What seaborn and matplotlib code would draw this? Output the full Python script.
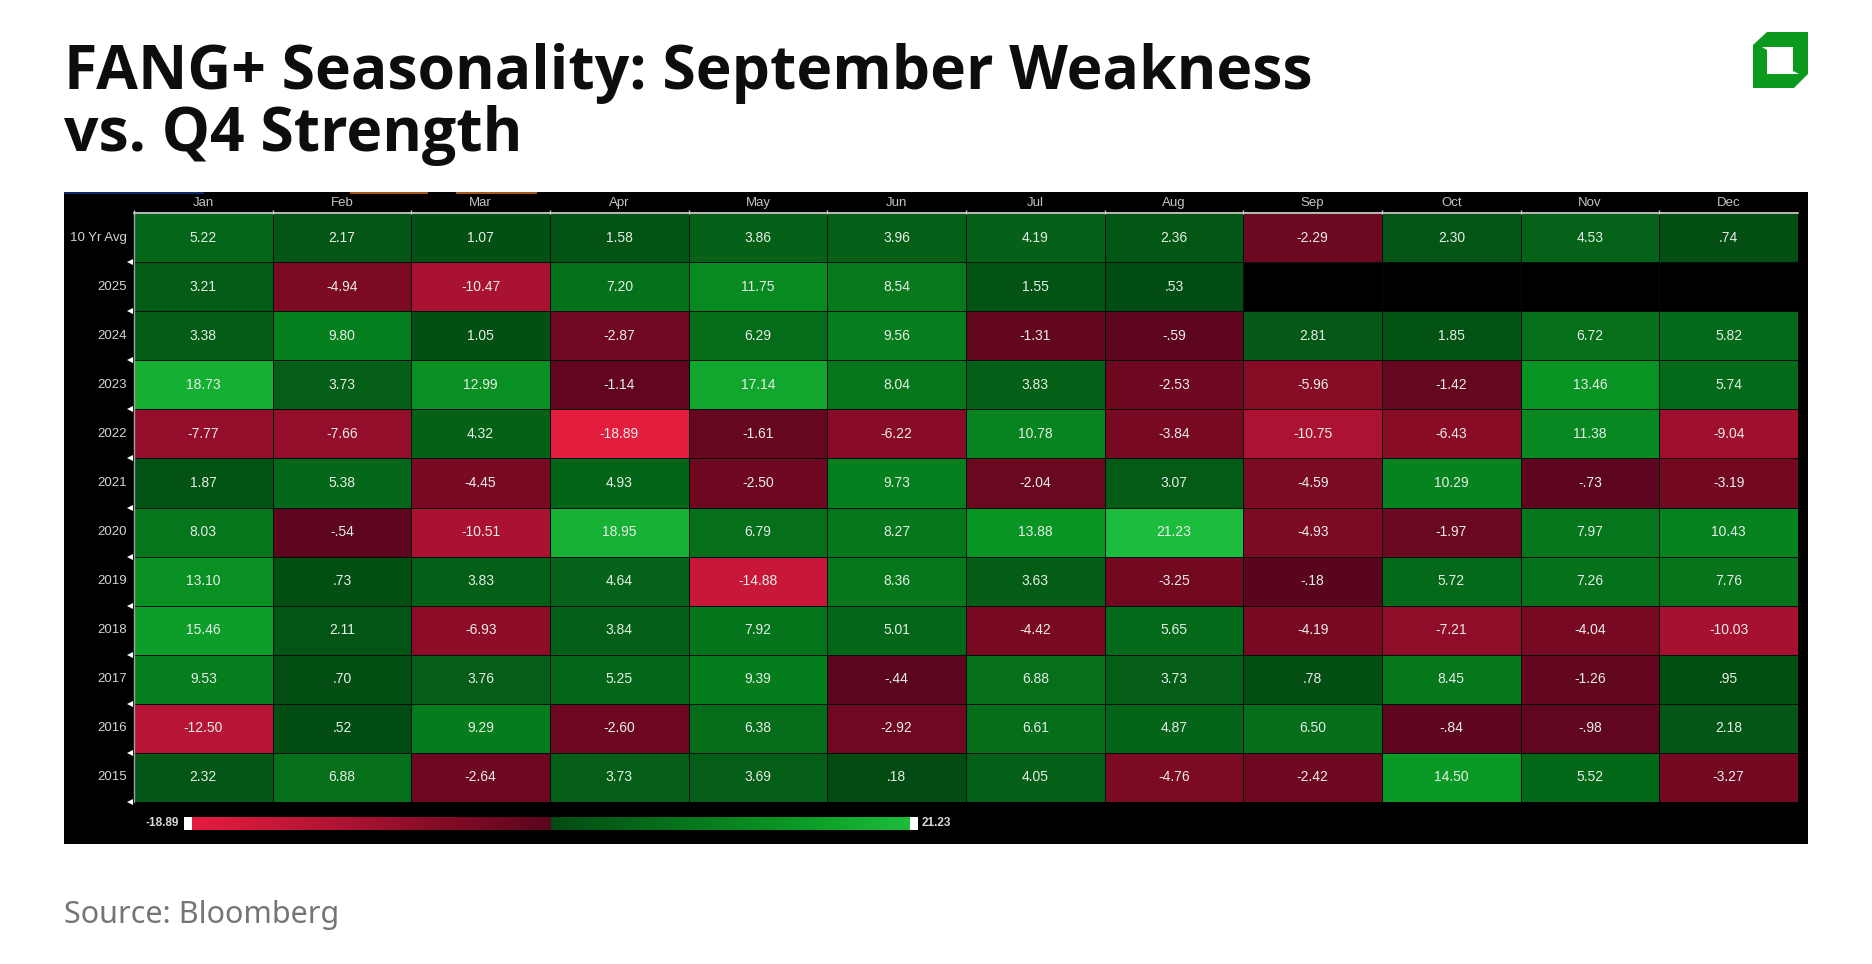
import numpy as np
import pandas as pd
import matplotlib
matplotlib.use("Agg")
import matplotlib.pyplot as plt
from matplotlib.colors import LinearSegmentedColormap, TwoSlopeNorm
from matplotlib.patches import Polygon, Rectangle
import seaborn as sns

months = ["Jan", "Feb", "Mar", "Apr", "May", "Jun", "Jul", "Aug", "Sep", "Oct", "Nov", "Dec"]
rows = ["10 Yr Avg", "2025", "2024", "2023", "2022", "2021", "2020", "2019", "2018", "2017", "2016", "2015"]

avg_10yr = [5.22, 2.17, 1.07, 1.58, 3.86, 3.96, 4.19, 2.36, -2.29, 2.30, 4.53, .74]
y2025 = [3.21, -4.94, -10.47, 7.20, 11.75, 8.54, 1.55, .53, np.nan, np.nan, np.nan, np.nan]
y2024 = [3.38, 9.80, 1.05, -2.87, 6.29, 9.56, -1.31, -.59, 2.81, 1.85, 6.72, 5.82]
y2023 = [18.73, 3.73, 12.99, -1.14, 17.14, 8.04, 3.83, -2.53, -5.96, -1.42, 13.46, 5.74]
y2022 = [-7.77, -7.66, 4.32, -18.89, -1.61, -6.22, 10.78, -3.84, -10.75, -6.43, 11.38, -9.04]
y2021 = [1.87, 5.38, -4.45, 4.93, -2.50, 9.73, -2.04, 3.07, -4.59, 10.29, -.73, -3.19]
y2020 = [8.03, -.54, -10.51, 18.95, 6.79, 8.27, 13.88, 21.23, -4.93, -1.97, 7.97, 10.43]
y2019 = [13.10, .73, 3.83, 4.64, -14.88, 8.36, 3.63, -3.25, -.18, 5.72, 7.26, 7.76]
y2018 = [15.46, 2.11, -6.93, 3.84, 7.92, 5.01, -4.42, 5.65, -4.19, -7.21, -4.04, -10.03]
y2017 = [9.53, .70, 3.76, 5.25, 9.39, -.44, 6.88, 3.73, .78, 8.45, -1.26, .95]
y2016 = [-12.50, .52, 9.29, -2.60, 6.38, -2.92, 6.61, 4.87, 6.50, -.84, -.98, 2.18]
y2015 = [2.32, 6.88, -2.64, 3.73, 3.69, .18, 4.05, -4.76, -2.42, 14.50, 5.52, -3.27]

vmin = -18.89
vmax = 21.23

W, H = 1872, 964


def px_axes(fig, x0, y0, x1, y1, **kw):
    # pixel box measured from the top left corner
    return fig.add_axes([x0 / W, 1 - y1 / H, (x1 - x0) / W, (y1 - y0) / H], **kw)


def fmt_val(v):
    if np.isnan(v):
        return ""
    s = f"{v:.2f}"
    return s.replace("0.", ".", 1) if abs(v) < 1 else s


sns.set_theme(style="white")
plt.rcParams["font.family"] = ["Noto Sans", "DejaVu Sans"]

df = pd.DataFrame([avg_10yr, y2025, y2024, y2023, y2022, y2021, y2020, y2019, y2018, y2017, y2016, y2015],
                  index=rows, columns=months)
labels = df.map(fmt_val)

cmap = LinearSegmentedColormap.from_list("bbg", [
    (0.0, "#e41c3e"), (0.222, "#aa1232"), (0.37, "#7d0a23"), (0.44, "#6c0820"), (0.5, "#58051e"),
    (0.5, "#024a12"), (0.83, "#089623"), (1.0, "#1cbc3c")])
norm = TwoSlopeNorm(vmin=vmin, vcenter=0, vmax=vmax)

fig = plt.figure(figsize=(W / 100, H / 100), dpi=100, facecolor="white")

# black terminal panel behind the table
panel = px_axes(fig, 64, 192, 1808, 844)
panel.set_facecolor("black")
panel.set_xticks([])
panel.set_yticks([])
for s in panel.spines.values():
    s.set_visible(False)
panel.add_patch(Rectangle((0, 0.997), 0.08, 0.003, transform=panel.transAxes, color="#0b2a66", lw=0))
panel.add_patch(Rectangle((0.164, 0.997), 0.045, 0.003, transform=panel.transAxes, color="#a5561c", lw=0))
panel.add_patch(Rectangle((0.225, 0.997), 0.046, 0.003, transform=panel.transAxes, color="#a5561c", lw=0))

ax = px_axes(fig, 134, 213, 1798, 802)
cax = px_axes(fig, 192, 817, 910, 830)
sns.heatmap(df, ax=ax, cmap=cmap, norm=norm, annot=labels, fmt="", linewidths=0.5, linecolor="#03100a",
            cbar=True, cbar_ax=cax, cbar_kws={"orientation": "horizontal"},
            annot_kws={"fontsize": 10, "color": "#e8efe8", "family": "Liberation Sans"})
ax.set_facecolor("black")
ax.xaxis.tick_top()
ax.tick_params(axis="x", length=0, pad=3, labelcolor="#c4c4c4", labelsize=9.5)
ax.tick_params(axis="y", length=0, pad=5, labelcolor="#d4d4d4", labelsize=9.5, rotation=0)
ax.set_xlabel("")
ax.set_ylabel("")
for t in ax.get_xticklabels() + ax.get_yticklabels():
    t.set_family("Liberation Sans")

# white header rule and the little row handles on the left
ax.axhline(0, color="#c8c8c8", lw=1.3, clip_on=False)
ax.axvline(0, color="#a0a0a0", lw=1, clip_on=False)
ax.plot(np.zeros(len(rows)) - 0.03, np.arange(1, len(rows) + 1), ls="", marker="<", ms=5, color="white",
        clip_on=False, mew=0)
ax.plot(np.arange(0, len(months)), np.zeros(len(months)) - 0.03, ls="", marker="|", ms=3, color="#c8c8c8",
        clip_on=False)

# colour bar with its end labels
cbar = ax.collections[0].colorbar
cbar.set_ticks([])
cbar.outline.set_visible(False)
cax.minorticks_off()
for x0 in (-8 / 718, 1.0):
    cax.add_patch(Rectangle((x0, 0), 8 / 718, 1, transform=cax.transAxes, color="white", lw=0, clip_on=False))
cax.text(-13 / 718, 0.5, fmt_val(vmin), transform=cax.transAxes, ha="right", va="center", color="#d8d8d8",
         fontsize=8.5, fontweight="bold", family="Liberation Sans")
cax.text(1 + 12 / 718, 0.5, fmt_val(vmax), transform=cax.transAxes, ha="left", va="center", color="#d8d8d8",
         fontsize=8.5, fontweight="bold", family="Liberation Sans")

# heading and source
fig.text(64 / W, 1 - 73 / H, "FANG+ Seasonality: September Weakness", fontsize=43.7, fontweight="bold",
         family="Open Sans", color="#0d0d0d", va="center", ha="left")
fig.text(64 / W, 1 - 136 / H, "vs. Q4 Strength", fontsize=43.7, fontweight="bold",
         family="Open Sans", color="#0d0d0d", va="center", ha="left")
fig.text(64 / W, 1 - 915 / H, "Source: Bloomberg", fontsize=22, color="#757575", va="center", ha="left")

# logo, in pixels
logo = [(1767, 32), (1808, 32), (1808, 74), (1794, 88), (1753, 88), (1753, 45)]
inner = [(1762, 47), (1793, 47), (1793, 71), (1799, 74), (1767, 74), (1767, 50)]
for pts, col in ((logo, "#0b9a1e"), (inner, "white")):
    fig.add_artist(Polygon([(x / W, 1 - y / H) for x, y in pts], closed=True, transform=fig.transFigure,
                           color=col, lw=0))

fig.savefig("out.png", dpi=100)
